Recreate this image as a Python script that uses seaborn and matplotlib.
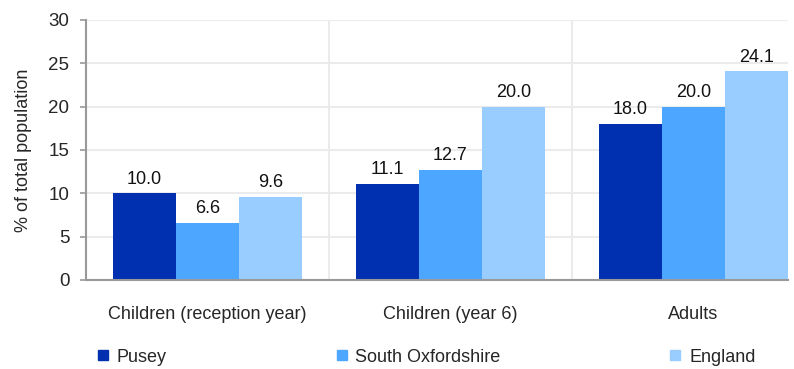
import pandas as pd
import matplotlib.pyplot as plt
import seaborn as sns
from matplotlib.lines import Line2D

categories = ["Children (reception year)", "Children (year 6)", "Adults"]
areas = ["Pusey", "South Oxfordshire", "England"]
pusey = [10.0, 11.1, 18.0]
south_oxon = [6.6, 12.7, 20.0]
england = [9.6, 20.0, 24.1]
colors = ["#0030B0", "#4DA6FF", "#99CCFF"]

df = pd.DataFrame({
    "Category": categories * 3,
    "Area": [a for a in areas for _ in categories],
    "Value": pusey + south_oxon + england,
})

sns.set_style("white")
plt.rcParams["font.family"] = ["Liberation Sans", "DejaVu Sans"]
plt.rcParams["font.size"] = 13

fig = plt.figure(figsize=(7.94, 3.69), dpi=100)
ax = fig.add_axes([0.1083, 0.2412, 0.8841, 0.7046])

sns.barplot(data=df, x="Category", y="Value", hue="Area", palette=colors,
            width=0.78, saturation=1, linewidth=0, ax=ax, legend=False)

for c in ax.containers:
    ax.bar_label(c, fmt="%.1f", padding=4, fontsize=13, color="#111111")

ax.set_ylim(0, 30)
ax.set_yticks(range(0, 31, 5))
ax.set_xlim(-0.5, 2.39)
ax.set_xticks([0.5, 1.5], minor=True)
ax.grid(axis="y", which="major", color="#EBEBEB", lw=1.5)
ax.grid(axis="x", which="minor", color="#EBEBEB", lw=1.5)
ax.set_axisbelow(True)

for s in ["top", "right"]:
    ax.spines[s].set_visible(False)
for s in ["left", "bottom"]:
    ax.spines[s].set_color("#999999")
    ax.spines[s].set_linewidth(1.5)

ax.tick_params(axis="y", which="major", left=True, length=4, width=1.2,
               color="#999999", labelsize=13.5, pad=8)
ax.tick_params(axis="x", which="both", bottom=False, labelsize=13, pad=15)
ax.set_xlabel("")
ax.set_ylabel("% of total population", fontsize=13, labelpad=12)

handles = [Line2D([], [], marker="s", ls="", color=c, markersize=7) for c in colors]
fig.legend(handles, areas, loc="lower left", bbox_to_anchor=(0.1, -0.035),
           ncol=3, frameon=False, fontsize=13, columnspacing=9.3,
           handlelength=0.8, handletextpad=0.35)

fig.savefig("out.png", dpi=100)
